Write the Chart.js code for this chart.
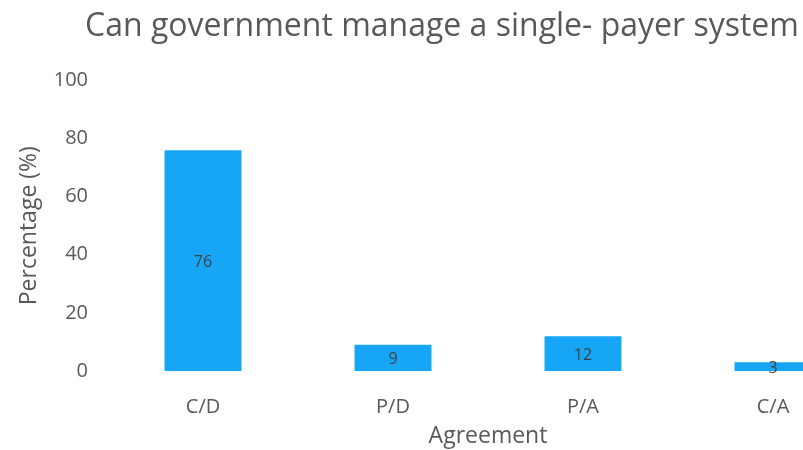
<!DOCTYPE html>
<html>
<head>
<meta charset="utf-8">
<script src="https://cdn.jsdelivr.net/npm/chart.js@4/dist/chart.umd.min.js"></script>
<style>
  html, body { margin: 0; padding: 0; background: #fff; overflow: hidden; }
  #wrap { width: 803px; height: 450px; overflow: hidden; position: relative; }
  #c { position: absolute; left: 0; top: 0; }
</style>
</head>
<body>
<div id="wrap"><canvas id="c" width="910" height="450"></canvas></div>
<script>
const categories = ['C/D', 'P/D', 'P/A', 'C/A'];
const percentages = [76, 9, 12, 3];
const yTicks = [0, 20, 40, 60, 80, 100];

const FONT = "'Open Sans', 'Noto Sans', sans-serif";
const GREY = '#595959';

// Writes each bar's value in the middle of the bar
const valueLabels = {
  id: 'valueLabels',
  afterDatasetsDraw(chart) {
    const ctx = chart.ctx;
    const meta = chart.getDatasetMeta(0);
    ctx.save();
    ctx.font = `16px ${FONT}`;
    ctx.fillStyle = '#404040';
    ctx.textAlign = 'center';
    ctx.textBaseline = 'middle';
    meta.data.forEach((bar, i) => {
      const mid = (bar.y + bar.base) / 2;
      ctx.fillText(String(percentages[i]), bar.x, mid + 2);
    });
    ctx.restore();
  }
};

new Chart(document.getElementById('c'), {
  type: 'bar',
  data: {
    labels: categories,
    datasets: [{
      data: percentages,
      backgroundColor: '#17a6f5',
      borderWidth: 0,
      categoryPercentage: 0.405,
      barPercentage: 1.0
    }]
  },
  options: {
    responsive: false,
    animation: false,
    layout: { padding: { left: 16, right: 42, top: 0, bottom: 0 } },
    plugins: {
      legend: { display: false },
      tooltip: { enabled: false },
      title: {
        display: true,
        text: 'Can government manage a single- payer system',
        color: GREY,
        font: { family: FONT, size: 32, weight: 'normal' },
        padding: { top: 8, bottom: 34 },
        align: 'center'
      }
    },
    scales: {
      x: {
        grid: { display: false },
        border: { display: false },
        ticks: { color: GREY, font: { family: FONT, size: 20 }, padding: 16 },
        title: {
          display: true, text: 'Agreement', color: GREY,
          font: { family: FONT, size: 23 }, padding: { top: 4, bottom: 0 }
        },
        afterFit(s) { s.height = 79; }
      },
      y: {
        min: 0, max: 100,
        afterBuildTicks(s) { s.ticks = yTicks.map(v => ({ value: v })); },
        grid: { display: false },
        border: { display: false },
        ticks: { color: GREY, font: { family: FONT, size: 20 }, padding: 12 },
        title: {
          display: true, text: 'Percentage (%)', color: GREY,
          font: { family: FONT, size: 23 }, padding: { top: 0, bottom: 0 }
        },
        afterFit(s) { s.width = 92; }
      }
    }
  },
  plugins: [valueLabels]
});
</script>
</body>
</html>
